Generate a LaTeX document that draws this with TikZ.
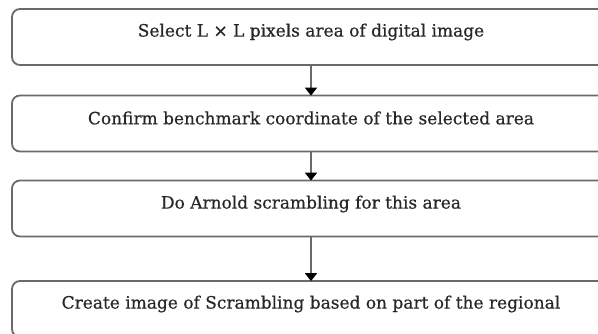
\documentclass[tikz,border=0pt]{standalone}
\usepackage{fontspec}
\setmainfont{DejaVu Serif}
\newfontfamily\stepfont[FakeBold=0.5]{DejaVu Serif}
\usetikzlibrary{arrows.meta}
\definecolor{edge}{HTML}{6A6A6A}
\definecolor{ink}{HTML}{2A2624}
\tikzset{
  stepbox/.style={draw=edge, line width=1.8pt, rounded corners=8pt,
    minimum width=598pt, minimum height=56pt, inner sep=0pt, fill=white},
  steptext/.style={text=ink, font=\stepfont\fontsize{17}{19}\selectfont, inner sep=0pt},
  flow/.style={draw=edge, line width=1.8pt,
    -{Triangle[width=12pt,length=8pt,color=black]}, shorten >=-1pt},
}
\begin{document}
\begin{tikzpicture}[x=1pt,y=-1pt]
  \useasboundingbox (0,0) rectangle (598,334);
  \clip (0,0) rectangle (598,334);
  \fill[white] (0,0) rectangle (598,334);
  % process boxes
  \node[stepbox] (b1) at (311,37)  {};
  \node[stepbox] (b2) at (311,123.5) {};
  \node[stepbox] (b3) at (311,208.5) {};
  \node[stepbox] (b4) at (311,309) {};
  % box captions
  \node[steptext] (t1) at (311,32)  {Select L × L pixels area of digital image};
  \node[steptext] (t2) at (311,118) {Confirm benchmark coordinate of the selected area};
  \node[steptext] (t3) at (311,204) {Do Arnold scrambling for this area};
  \node[steptext] (t4) at (311,304) {Create image of Scrambling based on part of the regional};
  % connectors
  \draw[flow] (b1.south) -- (b2.north);
  \draw[flow] (b2.south) -- (b3.north);
  \draw[flow] (b3.south) -- (b4.north);
\end{tikzpicture}
\end{document}
